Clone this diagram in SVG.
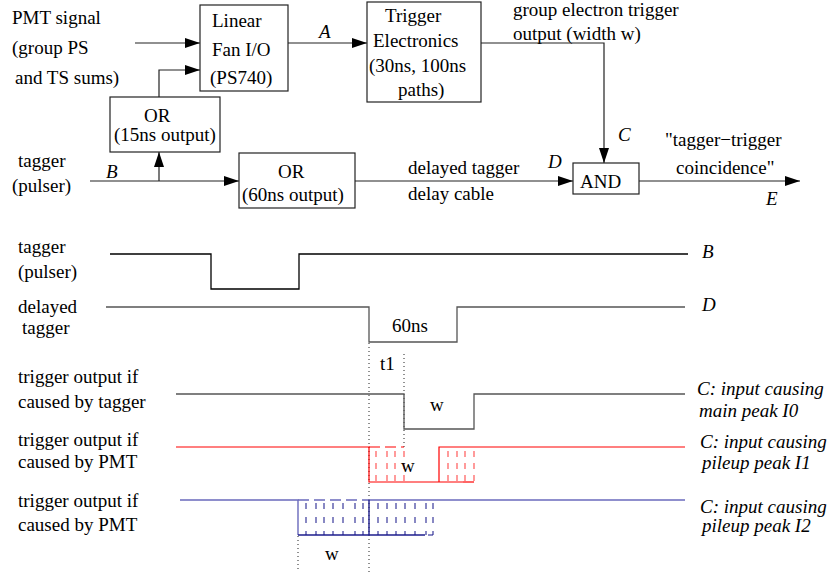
<svg xmlns="http://www.w3.org/2000/svg" width="832" height="573" viewBox="0 0 832 573">
  <style>
    text { font-family: "Liberation Serif", "Times New Roman", serif; font-size: 19px; fill: #000; }
    .it { font-style: italic; }
    .box { fill: #fff; stroke: #222; stroke-width: 1.2; }
    .wire { fill: none; stroke: #222; stroke-width: 1.2; }
    .wave { fill: none; stroke: #000; stroke-width: 1.3; }
    .grey { fill: none; stroke: #555; stroke-width: 1.3; }
    .dot { fill: none; stroke: #222; stroke-width: 1; stroke-dasharray: 1 3; }
    .red { fill: none; stroke: #f00; stroke-width: 1.2; }
    .redd { fill: none; stroke: #f33; stroke-width: 1.3; stroke-opacity: 0.75; stroke-dasharray: 6 6; stroke-dashoffset: -4; }
    .redh { fill: none; stroke: #f00; stroke-width: 1.2; stroke-dasharray: 11 5; }
    .blue { fill: none; stroke: #6a6abc; stroke-width: 1.4; }
    .navy { fill: none; stroke: #1c1c8c; stroke-width: 1.4; }
    .navyd { fill: none; stroke: #1c1c8c; stroke-width: 1.3; stroke-opacity: 0.8; stroke-dasharray: 6 8; stroke-dashoffset: -3; }
    .blueh { fill: none; stroke: #6a6abc; stroke-width: 1.4; stroke-dasharray: 11 5; }
  </style>
  <defs>
    <marker id="arrow" markerUnits="userSpaceOnUse" markerWidth="16" markerHeight="12" refX="15" refY="5" orient="auto">
      <path d="M0,0 L15,5 L0,10 Z" fill="#000"/>
    </marker>
  </defs>

  <!-- block diagram: connectors -->
  <g id="connectors">
    <line class="wire" x1="135" y1="43" x2="200" y2="43" marker-end="url(#arrow)"/>
    <polyline class="wire" points="159,97 159,70 200,70" marker-end="url(#arrow)"/>
    <line class="wire" x1="288" y1="43" x2="367" y2="43" marker-end="url(#arrow)"/>
    <polyline class="wire" points="481,43 604,43 604,163" marker-end="url(#arrow)"/>
    <line class="wire" x1="90" y1="181" x2="239" y2="181" marker-end="url(#arrow)"/>
    <line class="wire" x1="159" y1="181" x2="159" y2="152" marker-end="url(#arrow)"/>
    <line class="wire" x1="355" y1="181" x2="573" y2="181" marker-end="url(#arrow)"/>
    <line class="wire" x1="639" y1="181" x2="800" y2="181" marker-end="url(#arrow)"/>
  </g>

  <!-- block diagram: nodes -->
  <g id="pmt-signal">
    <text x="12" y="24">PMT signal</text>
    <text x="12" y="54">(group PS</text>
    <text x="15" y="84">and TS sums)</text>
  </g>
  <g id="linear-fan">
    <rect class="box" x="200" y="5" width="88" height="86"/>
    <text x="212" y="27">Linear</text>
    <text x="212" y="56">Fan I/O</text>
    <text x="210" y="84">(PS740)</text>
  </g>
  <g id="trigger-electronics">
    <rect class="box" x="367" y="2" width="114" height="100"/>
    <text x="385" y="22">Trigger</text>
    <text x="373" y="47">Electronics</text>
    <text x="369" y="72">(30ns, 100ns</text>
    <text x="398" y="96">paths)</text>
  </g>
  <g id="or-15ns">
    <rect class="box" x="110" y="97" width="110" height="55"/>
    <text x="144" y="122">OR</text>
    <text x="114" y="141">(15ns output)</text>
  </g>
  <g id="or-60ns">
    <rect class="box" x="239" y="153" width="116" height="55"/>
    <text x="278" y="178">OR</text>
    <text x="242" y="201">(60ns output)</text>
  </g>
  <g id="and-gate">
    <rect class="box" x="573" y="163" width="66" height="31"/>
    <text x="580" y="188">AND</text>
  </g>
  <g id="block-labels">
    <text class="it" x="319" y="38">A</text>
    <text x="18" y="167">tagger</text>
    <text x="12" y="192">(pulser)</text>
    <text class="it" x="106" y="178">B</text>
    <text x="513" y="16">group electron trigger</text>
    <text x="513" y="40">output (width w)</text>
    <text class="it" x="618" y="141">C</text>
    <text x="408" y="174">delayed tagger</text>
    <text x="408" y="200">delay cable</text>
    <text class="it" x="548" y="168">D</text>
    <text x="665" y="146">"tagger−trigger</text>
    <text x="676" y="174">coincidence"</text>
    <text class="it" x="766" y="205">E</text>
  </g>

  <!-- timing diagram -->
  <g id="timing-b">
    <text x="18" y="253">tagger</text>
    <text x="18" y="278">(pulser)</text>
    <polyline class="wave" points="110,254 211,254 211,289 299,289 299,254 688,254"/>
    <text class="it" x="702" y="258">B</text>
  </g>
  <g id="timing-d">
    <text x="18" y="313">delayed</text>
    <text x="22" y="334">tagger</text>
    <polyline class="grey" points="106,307 369,307 369,342 457,342 457,307 685,307"/>
    <text x="392" y="332">60ns</text>
    <text class="it" x="702" y="311">D</text>
  </g>
  <g id="markers">
    <line class="dot" x1="369" y1="343" x2="369" y2="572"/>
    <line class="dot" x1="404" y1="354" x2="404" y2="447"/>
    <line class="dot" x1="298" y1="536" x2="298" y2="572"/>
    <text x="380" y="370">t1</text>
  </g>
  <g id="timing-i0">
    <text x="18" y="383">trigger output if</text>
    <text x="18" y="408">caused by tagger</text>
    <polyline class="grey" points="176,394 404,394 404,429 474,429 474,394 685,394"/>
    <text x="430" y="411">w</text>
    <text class="it" x="697" y="395">C: input causing</text>
    <text class="it" x="699" y="417">main peak I0</text>
  </g>
  <g id="timing-i1">
    <text x="18" y="446">trigger output if</text>
    <text x="18" y="468">caused by PMT</text>
    <polyline class="red" points="176,447 369,447 369,482 463,482"/>
    <polyline class="red" points="439,482 439,447 685,447"/>
    <line class="redh" x1="369" y1="447" x2="404" y2="447"/>
    <line class="redh" x1="463" y1="482" x2="474" y2="482"/>
    <path class="redd" d="M376,447V482M387,447V482M395,447V482M404,447V482M448,447V482M457,447V482M465,447V482M474,447V482"/>
    <text x="401" y="472">w</text>
    <text class="it" x="700" y="448">C: input causing</text>
    <text class="it" x="702" y="469">pileup peak I1</text>
  </g>
  <g id="timing-i2">
    <text x="18" y="507">trigger output if</text>
    <text x="18" y="531">caused by PMT</text>
    <polyline class="blue" points="180,500 298,500 298,535"/>
    <polyline class="blue" points="369,500 685,500"/>
    <line class="blueh" x1="298" y1="500" x2="369" y2="500"/>
    <polyline class="navy" points="298,535 425,535"/>
    <line class="navy" x1="369" y1="500" x2="369" y2="535"/>
    <line class="navyd" x1="425" y1="535" x2="433" y2="535" stroke-dasharray="4 2"/>
    <path class="navyd" d="M306,500V535M316,500V535M324,500V535M333,500V535M343,500V535M355,500V535M363,500V535M378,500V535M387,500V535M396,500V535M405,500V535M415,500V535M426,500V535M433,500V535"/>
    <text x="325" y="560">w</text>
    <text class="it" x="700" y="513">C: input causing</text>
    <text class="it" x="702" y="532">pileup peak I2</text>
  </g>
</svg>
